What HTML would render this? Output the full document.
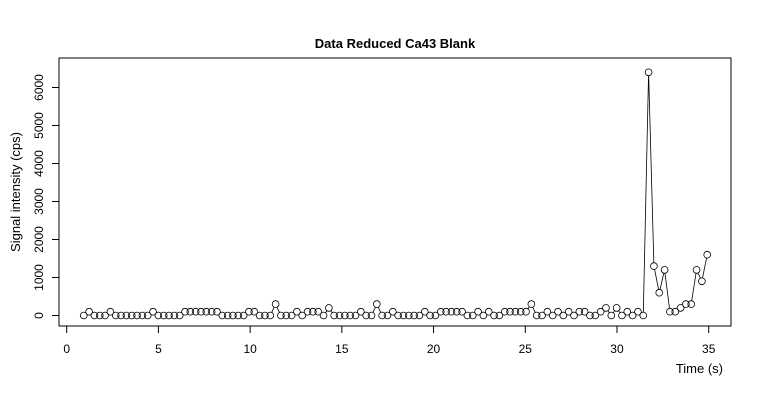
<!DOCTYPE html>
<html><head><meta charset="utf-8"><style>body{margin:0;background:#fff}svg{display:block;font-family:"Liberation Sans",Arial,sans-serif}</style></head>
<body>
<svg id="c" width="760" height="400">
<text x="395" y="48" text-anchor="middle" font-weight="bold" font-size="13">Data Reduced Ca43 Blank</text>
<rect x="59" y="58" width="672" height="268" fill="none" stroke="#000" stroke-width="1"/>
<text transform="translate(20,192) rotate(-90)" text-anchor="middle" font-size="13">Signal intensity (cps)</text>
<text x="723" y="373" text-anchor="end" font-size="13">Time (s)</text>
<g id="g"></g>
</svg>
<script>
const xTicks=[0,5,10,15,20,25,30,35];
const yTicks=[0,1000,2000,3000,4000,5000,6000];
const tStart=0.93, tStep=0.2905;
const values=[0,100,0,0,0,100,0,0,0,0,
0,0,0,100,0,0,0,0,0,100,
100,100,100,100,100,100,0,0,0,0,
0,100,100,0,0,0,
300,
0,0,0,100,0,100,100,100,0,
200,
0,0,0,0,0,100,0,0,
300,
0,0,100,0,0,0,0,0,100,0,0,100,100,100,100,100,0,0,100,0,100,0,0,100,100,100,100,100,
300,
0,0,100,0,100,0,100,0,100,100,0,0,100,
200,0,200,0,100,0,100,0,
6400,1300,600,1200,100,100,200,300,300,1200,900,1600];
const times=values.map((v,i)=>tStart+i*tStep);
const X=t=>66.7+t*(642/35), Y=v=>315.5-v*(228/6000);
const NS='http://www.w3.org/2000/svg', g=document.getElementById('g');
function mk(tag,a){const e=document.createElementNS(NS,tag);for(const k in a)e.setAttribute(k,a[k]);g.appendChild(e);return e;}
xTicks.forEach(t=>{const l=mk('line',{x1:X(t),x2:X(t),y1:326,y2:333,stroke:'#000'});


const tx=mk('text',{x:X(t),y:353,'text-anchor':'middle','font-size':'12'});tx.textContent=t;

});
yTicks.forEach(v=>{const l=mk('line',{x1:52,x2:59,y1:Y(v),y2:Y(v),stroke:'#000'});


const tx=mk('text',{transform:`translate(43,${Y(v)}) rotate(-90)`,'text-anchor':'middle','font-size':'12'});tx.textContent=v;

});
const r=3.4;
for(let i=0;i<values.length-1;i++){const x1=X(times[i]),y1=Y(values[i]),x2=X(times[i+1]),y2=Y(values[i+1]);
const d=Math.hypot(x2-x1,y2-y1);if(d<=2*r+1)continue;const ux=(x2-x1)/d,uy=(y2-y1)/d;
const s=mk('line',{x1:x1+ux*r,y1:y1+uy*r,x2:x2-ux*r,y2:y2-uy*r,stroke:'#000','stroke-width':'0.8'});

}
values.forEach((v,i)=>{const c=mk('circle',{cx:X(times[i]),cy:Y(v),r:r,fill:'none',stroke:'#000','stroke-width':'0.8'});

});
</script>
</body></html>
